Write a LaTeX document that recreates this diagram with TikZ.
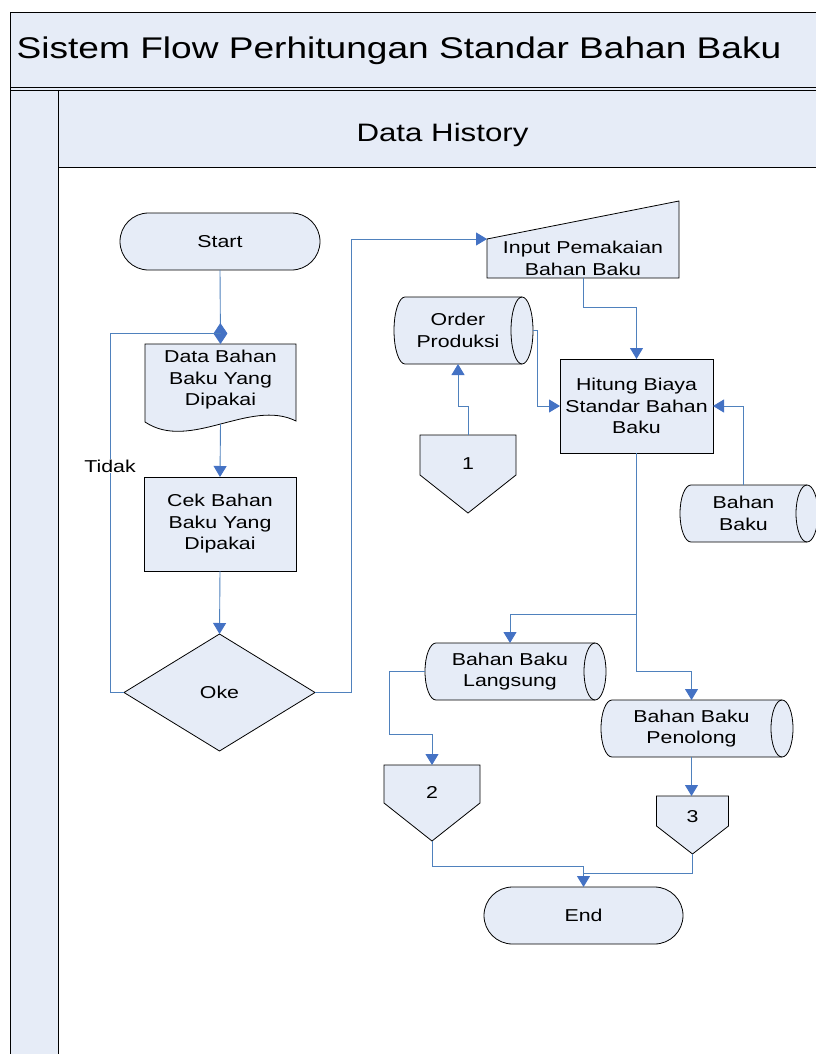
\documentclass[tikz,border=0pt]{standalone}
\usepackage{fontspec}
\setmainfont{Liberation Sans}[FakeStretch=1.24]
\usetikzlibrary{arrows.meta,shapes.geometric,shapes.misc,calc,backgrounds}
\definecolor{lanefill}{RGB}{230,236,247}
\definecolor{flowblue}{RGB}{79,129,189}
\definecolor{tipblue}{RGB}{68,114,196}
\newcommand\cylshape[2]{%
  \path[shapeline] (#1.north west) -- ([xshift=11pt]#1.north east)
    arc[start angle=90,end angle=-90,x radius=11pt,y radius=#2] -- (#1.south west)
    arc[start angle=270,end angle=90,x radius=11pt,y radius=#2] -- cycle;
  \draw[line width=0.8pt] ([xshift=11pt]#1.north east)
    arc[start angle=90,end angle=270,x radius=11pt,y radius=#2];}
\newcommand\offpg[3]{%
  \path[shapeline] (#1.north west) -- (#1.north east) -- ([yshift=-#2]#1.north east)
    -- ([yshift=-#3]#1.south) -- ([yshift=-#2]#1.north west) -- cycle;}
\begin{document}
\begin{tikzpicture}[x=1pt,y=-1pt,
  nodetext/.style={inner sep=0pt, outer sep=0pt, align=center, font=\fontsize{17.2pt}{21.5pt}\selectfont},
  boxed/.style={nodetext, draw=black, fill=lanefill, line width=0.8pt},
  shapeline/.style={draw=black, fill=lanefill, line width=0.8pt},
  flow/.style={draw=flowblue, line width=0.9pt},
  arr/.style={flow, -{Triangle[length=11pt,width=13pt,color=tipblue]}},
  frame/.style={draw=black, line width=0.8pt}
]
\useasboundingbox (0,0) rectangle (815,1054);

% nodes
\node[boxed, rounded rectangle, minimum width=200pt, minimum height=57pt] (start) at (220,241.5) {Start};
\node[nodetext, minimum width=151pt, minimum height=68pt] (data) at (220.5,380) {Data Bahan\\Baku Yang\\Dipakai};
\node[boxed, minimum width=152pt, minimum height=94pt] (cek) at (220,524) {Cek Bahan\\Baku Yang\\Dipakai};
\node[boxed, diamond, minimum width=191pt, minimum height=117pt] (oke) at (219.5,692.5) {Oke};
\node[nodetext, minimum width=192pt, minimum height=39pt] (input) at (583,258.5) {Input Pemakaian\\Bahan Baku};
\node[boxed, minimum width=153pt, minimum height=94pt] (hitung) at (636.5,406) {Hitung Biaya\\Standar Bahan\\Baku};
\node[nodetext, minimum width=106pt, minimum height=67pt] (order) at (458,330.5) {Order\\Produksi};
\node[nodetext, minimum width=96pt, minimum height=58pt] (c1) at (468,464) {1};
\node[nodetext, minimum width=105pt, minimum height=57pt] (bb) at (743.5,513.5) {Bahan\\Baku};
\node[nodetext, minimum width=148pt, minimum height=57pt] (lang) at (510,671.5) {Bahan Baku\\Langsung};
\node[nodetext, minimum width=159pt, minimum height=57pt] (pen) at (691.5,728.5) {Bahan Baku\\Penolong};
\node[nodetext, minimum width=96pt, minimum height=54pt] (c2) at (432,792) {2};
\node[nodetext, minimum width=72pt, minimum height=42pt] (c3) at (692.5,817) {3};
\node[boxed, rounded rectangle, minimum width=199pt, minimum height=57pt] (stop) at (583.5,915.5) {End};

\node[font=\fontsize{29.9pt}{35pt}\selectfont, anchor=base, inner sep=0pt] (title) at (399,58.3) {Sistem Flow Perhitungan Standar Bahan Baku};
\node[font=\fontsize{25.2pt}{30pt}\selectfont, anchor=base, inner sep=0pt] (lane) at (442.5,141.7) {Data History};

\begin{scope}[on background layer]
  \fill[lanefill] (10,12) rectangle (830,167);
  \fill[lanefill] (10,90) rectangle (58,1070);
  \draw[frame] (830,12) -- (10,12) -- (10,1070);
  \draw[frame] (10,87) -- (830,87);
  \draw[frame] (10,90) -- (830,90);
  \draw[frame] (58,90) -- (58,1070);
  \draw[frame] (58,167) -- (830,167);
  % document
  \path[shapeline] ([yshift=2pt]data.north west) -- ([yshift=2pt]data.north east) -- ([yshift=-7pt]data.south east)
    .. controls ([xshift=-46pt,yshift=16pt]data.south east) and ([xshift=45pt,yshift=-38pt]data.south west)
    .. ([yshift=-8pt]data.south west) -- cycle;
  % manual input
  \path[shapeline] (input.north west) -- ([yshift=38pt]input.north east) -- (input.south east) -- (input.south west) -- cycle;
  \cylshape{order}{33.5pt}
  \cylshape{bb}{28.5pt}
  \cylshape{lang}{28.5pt}
  \cylshape{pen}{28.5pt}
  \offpg{c1}{40pt}{20pt}
  \offpg{c2}{38pt}{22pt}
  \offpg{c3}{30pt}{16pt}
\end{scope}

% connectors
\draw[flow,-{Diamond[length=21pt,width=14pt,color=tipblue]}] (start.south) -- ([yshift=2pt]data.north);
\coordinate (tl) at (110,333);
\draw[flow] (oke.west) -| (tl) -- ($(data.north)+(0,-13)$);
\node[nodetext, fill=white, inner sep=1pt] (tidak) at (110,466) {Tidak};
\draw[arr] ([yshift=-10pt]data.south) -- (cek.north);
\draw[arr] (cek.south) -- (oke.north);
\draw[arr] (oke.east) -- ++(36,0) |- (input.north west);
\draw[arr] (input.south) -- ++(0,29) -| (hitung.north);
\draw[arr] ([xshift=22pt]order.east) -- ++(4,0) |- (hitung.west);
\draw[arr] (c1.north) -- ++(0,-29) -| (order.south);
\draw[arr] (bb.north) |- (hitung.east);
\draw[arr] (hitung.south) -- ++(0,161) -| (lang.north);
\draw[arr] (hitung.south) -- ++(0,218) -| (pen.north);
\draw[arr] ([xshift=-11pt]lang.west) -- ++(-36,0) -- ++(0,63) -| (c2.north);
\draw[arr] (pen.south) -- (pen.south |- c3.north);
\draw[arr] ([yshift=-22pt]c2.south) -- ++(0,25) -| (stop.north);
\draw[flow] ([yshift=-16pt]c3.south) |- ($(stop.north)+(0,-14)$);
\end{tikzpicture}
\end{document}
